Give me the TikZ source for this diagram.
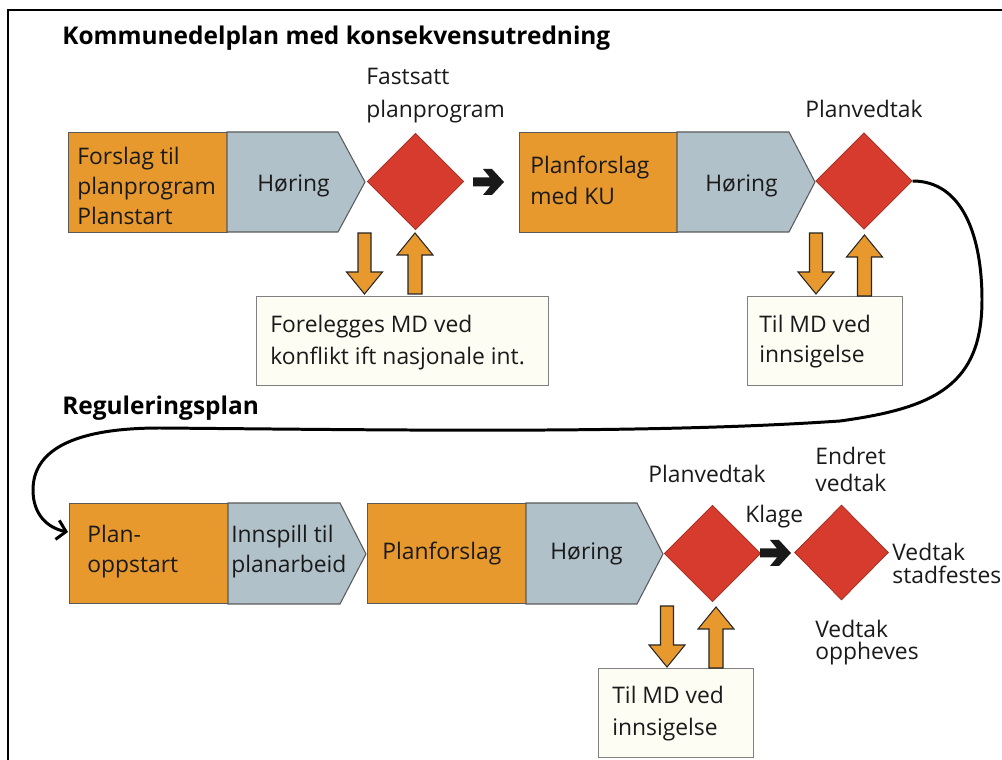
\documentclass[tikz,border=0pt]{standalone}
\usepackage{fontspec}
\setmainfont{Open Sans}
\usetikzlibrary{shapes.geometric,arrows.meta}
\definecolor{planorange}{HTML}{E8992E}
\definecolor{planblue}{HTML}{B1C1C9}
\definecolor{planred}{HTML}{D63B2D}
\definecolor{noteback}{HTML}{FDFDF4}
\definecolor{edgegray}{HTML}{5A5A5A}
\definecolor{ink}{HTML}{1A1A1A}
\begin{document}
\begin{tikzpicture}[x=0.02cm,y=-0.02cm,
  % multi-line texts are placed by the baseline of their last line
  txt/.style={anchor=base west, inner sep=0, align=left, text=ink,
    font=\fontsize{13}{17.6}\selectfont},
  heading/.style={anchor=base west, inner sep=0, text=black,
    font=\fontsize{13.9}{16}\bfseries\selectfont},
  stagebox/.style={rectangle, anchor=north west, fill=planorange, draw=edgegray,
    line width=0.6pt, minimum height=2cm, inner sep=0},
  hearing/.style={fill=planblue, draw=edgegray, line width=0.6pt},
  decision/.style={diamond, fill=planred, draw=planred!75!black, line width=0.4pt,
    minimum width=1.93cm, minimum height=1.93cm, inner sep=0},
  note/.style={rectangle, anchor=north west, fill=noteback, draw=gray,
    line width=0.7pt, inner sep=0},
  flow/.style={line width=1.7pt, black, -{Straight Barb[length=5pt,width=11pt,line width=1.7pt]}},
  downarrow/.pic={\filldraw[fill=planorange, draw=black!85, line width=0.6pt]
    (0,0) -- (-18,-22) -- (-6.5,-22) -- (-6.5,-61) -- (6.5,-61) -- (6.5,-22) -- (18,-22) -- cycle;},
  uparrow/.pic={\filldraw[fill=planorange, draw=black!85, line width=0.6pt]
    (0,0) -- (-18,22) -- (-7,22) -- (-7,61) -- (7,61) -- (7,22) -- (18,22) -- cycle;},
  nextarrow/.pic={\fill[black!90]
    (0,-4.5) -- (17,-4.5) -- (10,-13) -- (19,-13) -- (31,0) -- (19,13) -- (10,13) -- (17,4.5) -- (0,4.5) -- cycle;}
]
\useasboundingbox (0,0) rectangle (1002,760);

% frame
\draw[line width=1.4pt] (1002,10) -- (8,10) -- (8,760);

% ---------- Kommunedelplan ----------
\node[heading] (title1) at (62,45) {Kommunedelplan med konsekvensutredning};

\node[stagebox, minimum width=3.18cm] (s1) at (68,132) {};
\filldraw[hearing] (227,132) -- (338,132) -- (365,182) -- (338,232) -- (227,232) -- cycle;
\node[txt, font=\fontsize{13}{17.3}\selectfont] (s1t) at (77,225) {Forslag til\\planprogram\\Planstart};
\node[txt] (h1) at (257,192) {Høring};
\node[decision] (d1) at (415.5,181.5) {};
\node[txt, font=\fontsize{13}{18.8}\selectfont] (d1t) at (366,118) {Fastsatt\\planprogram};

\pic at (473,182) {nextarrow};

\node[stagebox, minimum width=3.16cm] (s2) at (519,132) {};
\filldraw[hearing] (677,132) -- (789,132) -- (815,182) -- (789,232) -- (677,232) -- cycle;
\node[txt, font=\fontsize{13}{18.2}\selectfont] (s2t) at (530,205) {Planforslag\\med KU};
\node[txt] (h2) at (705,192) {Høring};
\node[decision] (d2) at (864,181) {};
\node[txt] (d2t) at (805,118) {Planvedtak};

\node[note, minimum width=5.84cm, minimum height=1.78cm] (n1) at (256,296) {};
\node[txt, font=\fontsize{13}{18.4}\selectfont] (n1t) at (270,365) {Forelegges MD ved\\konflikt ift nasjonale int.};
\pic at (364.5,294) {downarrow};
\pic at (415,233) {uparrow};

\node[note, minimum width=3.1cm, minimum height=1.78cm] (n2) at (747,296) {};
\node[txt, font=\fontsize{13}{17.2}\selectfont] (n2t) at (759,363) {Til MD ved\\innsigelse};
\pic at (816,294) {downarrow};
\pic at (864.5,235) {uparrow};

% ---------- Reguleringsplan ----------
\node[heading] (title2) at (62,415) {Reguleringsplan};

\node[stagebox, minimum width=3.18cm] (s3) at (69,503) {};
\filldraw[hearing] (228,503) -- (340,503) -- (366,554) -- (340,604) -- (228,604) -- cycle;
\node[txt, font=\fontsize{13}{17.1}\selectfont] (s3t) at (87,573) {Plan-\\oppstart};
\node[txt, font=\fontsize{13}{17.1}\selectfont] (h3) at (231,573) {Innspill til\\planarbeid};

\node[stagebox, minimum width=3.18cm] (s4) at (367,503) {};
\filldraw[hearing] (526,503) -- (637,503) -- (663,554) -- (637,604) -- (526,604) -- cycle;
\node[txt] (s4t) at (382,560) {Planforslag};
\node[txt] (h4) at (550,560) {Høring};

\node[decision] (d3) at (712.5,553.5) {};
\node[txt] (d3t) at (648,483) {Planvedtak};
\node[txt] (klage) at (745,523) {Klage};
\pic at (760,553) {nextarrow};

\node[decision, minimum width=1.88cm, minimum height=1.9cm] (d4) at (841.5,552.5) {};
\node[txt, font=\fontsize{13}{15.4}\selectfont] (d4a) at (815,492) {Endret\\vedtak};
\node[txt, font=\fontsize{13}{13}\selectfont] (d4b) at (892,583) {Vedtak\\stadfestes};
\node[txt, font=\fontsize{13}{12.6}\selectfont] (d4c) at (815,660) {Vedtak\\oppheves};

\node[note, minimum width=3.1cm, minimum height=1.78cm] (n3) at (598,668) {};
\node[txt, font=\fontsize{13}{18.2}\selectfont] (n3t) at (612,735) {Til MD ved\\innsigelse};
\pic at (667,667) {downarrow};
\pic at (716,607) {uparrow};

% link from the municipal plan decision to the zoning plan start
\coordinate (k1) at (982,300);
\coordinate (k2) at (840,421);
\coordinate (k3) at (160,428);
\coordinate (k4) at (33,490);
\coordinate (e1) at (68,532);
\draw[flow] (d2.east) .. controls (962,181) and (982,235) .. (k1)
  .. controls (982,385) and (935,408) .. (k2)
  .. controls (650,434) and (400,430) .. (k3)
  .. controls (70,428) and (33,452) .. (k4)
  .. controls (33,515) and (48,528) .. (e1);
\end{tikzpicture}
\end{document}
